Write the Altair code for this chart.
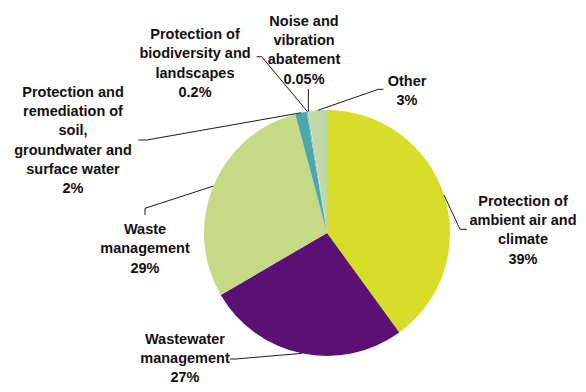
import math
import altair as alt
import pandas as pd

# ---- data ----
categories = [
    "Protection of ambient air and climate",
    "Wastewater management",
    "Waste management",
    "Protection and remediation of soil, groundwater and surface water",
    "Protection of biodiversity and landscapes",
    "Noise and vibration abatement",
    "Other",
]
values = [40.0, 26.6, 29.25, 1.5, 0.2, 0.05, 2.4]
label_names = [
    "Protection of\nambient air and\nclimate",
    "Wastewater\nmanagement",
    "Waste\nmanagement",
    "Protection and\nremediation of\nsoil,\ngroundwater and\nsurface water",
    "Protection of\nbiodiversity and\nlandscapes",
    "Noise and\nvibration\nabatement",
    "Other",
]
label_pct = ["39%", "27%", "29%", "2%", "0.2%", "0.05%", "3%"]
colors = ["#d7dd28", "#5b1073", "#c5d987", "#4aa8aa", "#9db7c6", "#dfe6ea", "#bfdaa8"]

# ---- layout (pixels in chart coordinates) ----
W, H = 570, 376
CX, CY, R = 319, 225, 123
label_xy = [(515, 193.7), (177, 331.5), (137, 222), (65, 84.7),
            (187, 27), (296, 13.7), (399, 73.7)]
elbows = [
    [(452, 221.3), (459, 221.3)],
    [(228, 351), (222, 351)],
    [(137, 200.3), (137, 207)],
    [(138.7, 132), (130.3, 132)],
    [(253.7, 48.7), (248.7, 48.7)],
    [None],
    [(370.3, 81.3), (375.3, 81.3)],
]

df = pd.DataFrame({"category": categories, "value": values, "idx": range(len(values))})

total = sum(values)
rows = []
cum = 0.0
for i, v in enumerate(values):
    mid = (cum + v / 2) / total * 2 * math.pi
    cum += v
    sx = CX + R * math.sin(mid)
    sy = CY - R * math.cos(mid)
    pts = [(sx, sy)]
    for e in elbows[i]:
        if e is None:
            pts.append((sx, 81))
        else:
            pts.append(e)
    for j, (px, py) in enumerate(pts):
        rows.append({"label": categories[i], "seq": j, "px": px, "py": py})
lines_df = pd.DataFrame(rows)

text_df = pd.DataFrame({
    "label": categories,
    "text": [n + "\n" + p for n, p in zip(label_names, label_pct)],
    "px": [p[0] for p in label_xy],
    "py": [p[1] for p in label_xy],
})

pie = alt.Chart(df).mark_arc(outerRadius=R).encode(
    theta=alt.Theta("value:Q", stack=True),
    color=alt.Color("category:N", scale=alt.Scale(domain=categories, range=colors), legend=None),
    order=alt.Order("idx:Q"),
    x=alt.value(CX),
    y=alt.value(CY),
)

leaders = alt.Chart(lines_df).mark_line(color="#000000", strokeWidth=0.9).encode(
    x=alt.X("px:Q", scale=None, axis=None),
    y=alt.Y("py:Q", scale=None, axis=None),
    detail="label:N",
    order="seq:Q",
)

labels = alt.Chart(text_df).mark_text(
    font="Liberation Sans", fontSize=14.5, fontWeight="bold", color="#111111",
    align="center", baseline="middle", lineBreak="\n", lineHeight=19.3,
).encode(
    x=alt.X("px:Q", scale=None, axis=None),
    y=alt.Y("py:Q", scale=None, axis=None),
    text="text:N",
)

chart = alt.layer(pie, leaders, labels).properties(
    width=W, height=H, autosize=alt.AutoSizeParams(type="none"), padding=0
).configure_view(stroke=None)

chart.save("out.html", embed_options={"renderer": "svg", "actions": False})
